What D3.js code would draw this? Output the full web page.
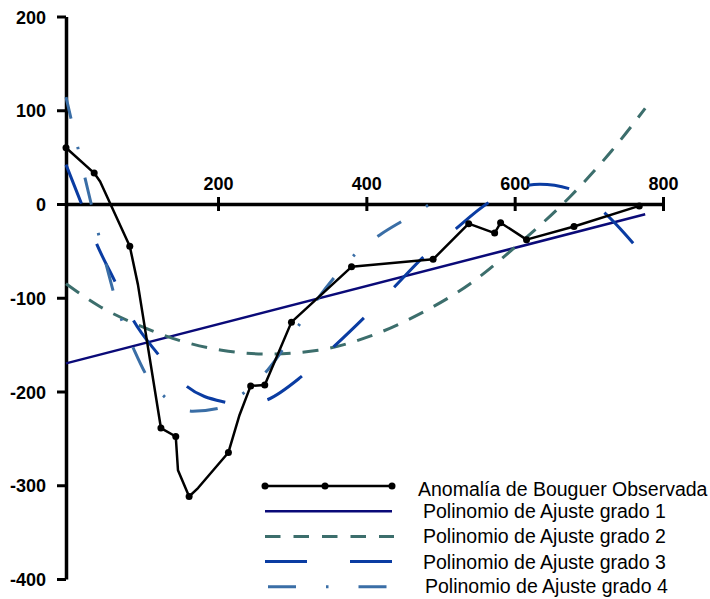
<!DOCTYPE html>
<html>
<head>
<meta charset="utf-8">
<script src="https://cdn.jsdelivr.net/npm/d3@7"></script>
<style>
  body { margin: 0; background: #fff; }
  svg { display: block; font-family: "Liberation Sans", Arial, sans-serif; }
</style>
</head>
<body>
<svg id="chart" width="710" height="599"></svg>
<script>
// tick values
const xTicks = [200, 400, 600, 800];
const yTicks = [-400, -300, -200, -100, 0, 100, 200];

// observed Bouguer anomaly (vertices; obsDot = 1 where a marker is drawn)
const obsX = [-5, 33, 41, 81, 92, 123, 143, 146, 161, 173, 214, 229, 244, 263, 299, 380, 490, 538, 573, 581, 616, 680, 768];
const obsY = [60, 33, 24, -45, -86, -239, -248, -284, -312, -303, -265, -225, -194, -193, -126, -67, -59, -21, -31, -20, -38, -24, -2];
const obsDot = [1, 1, 0, 1, 0, 1, 1, 0, 1, 0, 1, 0, 1, 1, 1, 1, 1, 1, 1, 1, 1, 1, 1];

// fitted polynomials
const deg1X = [-5, 776];
const deg1Y = [-170, -11];

const deg2X = [-5, 40, 95, 150, 205, 265, 335, 405, 470, 540, 605, 675, 730, 776];
const deg2Y = [-85, -109, -130, -146, -156, -160, -156, -141, -118, -85, -43, 8, 56, 102];

const deg3X = [-5, 15, 36, 60, 85, 118, 157, 207, 236, 266, 311, 351, 396, 436, 475, 520, 564, 618, 634, 675, 722, 761, 776];
const deg3Y = [42, 2, -42, -81, -123, -159, -194, -211, -214, -209, -185, -156, -122, -90, -58, -27, 1, 20, 21, 16, -10, -43, -57];

const deg4X = [-5, 11, 29, 50, 71, 87, 103, 130, 166, 200, 234, 267, 311, 351, 387, 420, 451, 487, 515];
const deg4Y = [114, 60, 0, -67, -126, -156, -182, -207, -221, -218, -202, -177, -127, -84, -52, -32, -17, 0, 8];

const legendNames = [
  "Anomalía de Bouguer Observada",
  "Polinomio de Ajuste grado 1",
  "Polinomio de Ajuste grado 2",
  "Polinomio de Ajuste grado 3",
  "Polinomio de Ajuste grado 4"
];

const svg = d3.select("#chart");

const x = d3.scaleLinear().domain([-5, 800]).range([66, 663]);
const y = d3.scaleLinear().domain([-400, 200]).range([579, 16.5]);

const zip = (xs, ys) => xs.map((v, i) => ({x: v, y: ys[i], i: i}));

// axes (plain hyphen for negatives, like the original)
const yAxis = svg.append("g")
  .attr("transform", "translate(" + x(-5) + ",0)")
  .call(d3.axisLeft(y).tickValues(yTicks).tickFormat(d => String(d))
    .tickSize(9).tickSizeOuter(0).tickPadding(11));

const xAxis = svg.append("g")
  .attr("transform", "translate(0," + y(0) + ")")
  .call(d3.axisTop(x).tickValues(xTicks).tickFormat(d => String(d))
    .tickSize(7).tickSizeOuter(0).tickPadding(7));

xAxis.selectAll(".tick line").attr("y1", 7).attr("y2", -7);

[xAxis, yAxis].forEach(ax => {
  ax.select(".domain").attr("stroke", "#000").attr("stroke-width", 3.5);
  ax.selectAll(".tick line").attr("stroke", "#000").attr("stroke-width", 3);
  ax.selectAll(".tick text")
    .attr("fill", "#000")
    .style("font-size", "18px")
    .style("font-weight", "bold")
    .style("font-family", "'Liberation Sans', Arial, sans-serif");
});
yAxis.selectAll(".tick text").attr("dy", "0.37em");

// series
const smooth = d3.line().x(d => x(d.x)).y(d => y(d.y)).curve(d3.curveMonotoneX);
const straight = d3.line().x(d => x(d.x)).y(d => y(d.y));

const series = [
  {data: zip(deg1X, deg1Y), color: "#0a0a78", width: 2.5, dash: null, off: 0},
  {data: zip(deg2X, deg2Y), color: "#3c6e6c", width: 3, dash: "16,12", off: 0},
  {data: zip(deg3X, deg3Y), color: "#0a3ca2", width: 3, dash: "42,43", off: 0},
  {data: zip(deg4X, deg4Y), color: "#3a6ea6", width: 3, dash: "28,29,2.5,29", off: 6}
];

svg.append("g").selectAll("path")
  .data(series)
  .enter().append("path")
  .attr("d", d => smooth(d.data))
  .attr("fill", "none")
  .attr("stroke", d => d.color)
  .attr("stroke-width", d => d.width)
  .attr("stroke-dasharray", d => d.dash)
  .attr("stroke-dashoffset", d => d.off);

const obs = zip(obsX, obsY);
svg.append("path")
  .attr("d", straight(obs))
  .attr("fill", "none")
  .attr("stroke", "#000")
  .attr("stroke-width", 2.5)
  .attr("stroke-linejoin", "round");

svg.append("g").selectAll("circle")
  .data(obs.filter(d => obsDot[d.i]))
  .enter().append("circle")
  .attr("cx", d => x(d.x))
  .attr("cy", d => y(d.y))
  .attr("r", 3.5)
  .attr("fill", "#000");

// legend
const legendStyles = [
  {color: "#000", width: 2.5, dash: null, x0: 265, x1: 392},
  {color: "#0a0a78", width: 2.5, dash: null, x0: 265, x1: 392},
  {color: "#3c6e6c", width: 3, dash: "15.5,13", x0: 265, x1: 394},
  {color: "#0a3ca2", width: 3, dash: "42,43", x0: 265, x1: 393},
  {color: "#3a6ea6", width: 3, dash: "28,30,2.5,30", x0: 268, x1: 387}
];
const textX = [418, 423, 423, 423, 425];
const textDy = [10, 7, 7, 7, 6.5];

const legend = svg.append("g");
legendNames.forEach((name, i) => {
  const ly = 486 + i * 25.2;
  const st = legendStyles[i];
  legend.append("line")
    .attr("x1", st.x0).attr("x2", st.x1)
    .attr("y1", ly).attr("y2", ly)
    .attr("stroke", st.color)
    .attr("stroke-width", st.width)
    .attr("stroke-dasharray", st.dash);
  if (i === 0) {
    [265, 325, 392].forEach(cx => {
      legend.append("circle").attr("cx", cx).attr("cy", ly).attr("r", 3.5).attr("fill", "#000");
    });
  }
  legend.append("text")
    .attr("x", textX[i])
    .attr("y", ly + textDy[i])
    .style("font-size", "19.5px")
    .attr("fill", "#000")
    .text(name);
});
</script>
</body>
</html>
